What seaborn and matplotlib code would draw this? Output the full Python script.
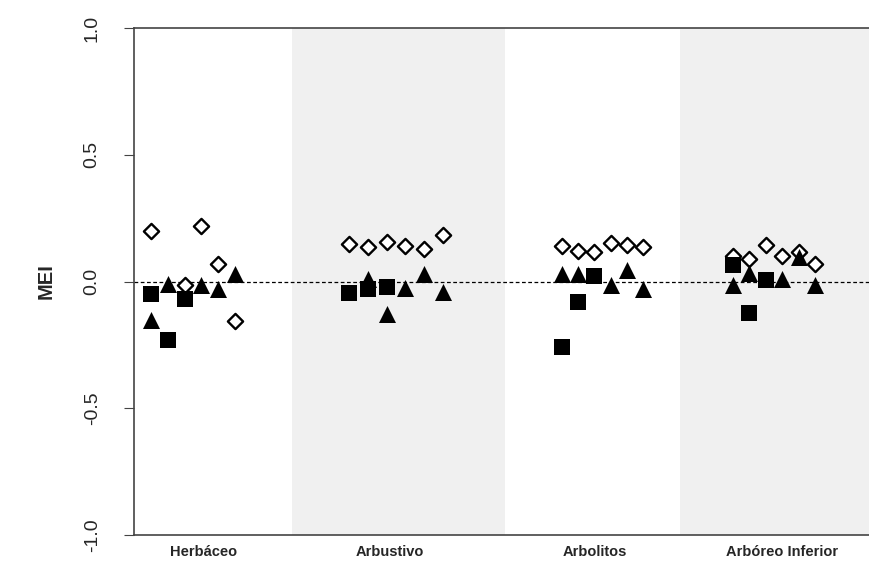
import pandas as pd
import matplotlib
matplotlib.use("Agg")
import matplotlib.pyplot as plt
import seaborn as sns

# Datos (MEI por estrato y sitio)
groups = ["Herbáceo", "Arbustivo", "Arbolitos", "Arbóreo Inferior"]

diamond_slots = [[0, 2, 3, 4, 5], [0, 1, 2, 3, 4, 5], [0, 1, 2, 3, 4, 5], [0, 1, 2, 3, 4, 5]]
diamond_vals = [[0.20, -0.015, 0.22, 0.07, -0.155],
                [0.146, 0.135, 0.155, 0.14, 0.13, 0.185],
                [0.14, 0.12, 0.115, 0.15, 0.145, 0.135],
                [0.10, 0.09, 0.145, 0.10, 0.115, 0.07]]

triangle_slots = [[0, 1, 3, 4, 5], [1, 2, 3, 4, 5], [0, 1, 3, 4, 5], [0, 1, 3, 4, 5]]
triangle_vals = [[-0.15, -0.01, -0.015, -0.03, 0.03],
                 [0.01, -0.13, -0.025, 0.03, -0.04],
                 [0.03, 0.03, -0.012, 0.045, -0.03],
                 [-0.015, 0.035, 0.01, 0.095, -0.015]]

square_slots = [[0, 1, 2], [0, 1, 2], [0, 1, 2], [0, 1, 2]]
square_vals = [[-0.05, -0.23, -0.07],
               [-0.045, -0.03, -0.02],
               [-0.26, -0.08, 0.02],
               [0.065, -0.125, 0.005]]

yticks = [1.0, 0.5, 0.0, -0.5, -1.0]

# Disposicion de las bandas (eje x continuo)
band_edges = [0, 158, 371, 546, 736]
slot_start = [17, 215, 428, 599]
slot_step = [16.8, 18.8, 16.2, 16.4]
label_pos = [70, 256, 461, 648]


def make_df(slots, vals):
    rows = []
    for g, (ss, vv) in enumerate(zip(slots, vals)):
        for s, v in zip(ss, vv):
            rows.append({"grupo": groups[g], "x": slot_start[g] + s * slot_step[g], "MEI": v})
    return pd.DataFrame(rows)


df_d = make_df(diamond_slots, diamond_vals)
df_t = make_df(triangle_slots, triangle_vals)
df_s = make_df(square_slots, square_vals)

sns.set_style("white")
plt.rcParams['font.family'] = ['Liberation Sans', 'DejaVu Sans']

fig = plt.figure(figsize=(8.7, 5.62), dpi=100)
ax = fig.add_axes([134 / 870, 27 / 562, 740 / 870, 507 / 562])

for i in range(4):
    if i % 2 == 1:
        ax.axvspan(band_edges[i], band_edges[i + 1], color="#f0f0f0", lw=0, zorder=0)

ax.axhline(0, color="black", lw=0.9, ls=(0, (3, 2)), zorder=1)

sns.scatterplot(data=df_d, x="x", y="MEI", marker="D", s=60, facecolor="white",
                edgecolor="black", linewidth=1.7, ax=ax, zorder=2)
sns.scatterplot(data=df_s, x="x", y="MEI", marker="s", s=135, color="black",
                edgecolor="black", linewidth=0, ax=ax, zorder=3)
sns.scatterplot(data=df_t, x="x", y="MEI", marker="^", s=150, color="black",
                edgecolor="black", linewidth=0, ax=ax, zorder=4)

ax.set_xlim(0, 740)
ax.set_ylim(-1.0, 1.0)
ax.set_yticks(yticks)
ax.set_yticklabels([f"{v:.1f}" for v in yticks], rotation=90, va="center", fontsize=14)
ax.set_xticks(label_pos)
ax.set_xticklabels(groups, fontsize=10.5, fontweight="bold")
ax.tick_params(axis="x", length=0, pad=7)
ax.tick_params(axis="y", length=7, width=0.8, color="#444444", pad=17, left=True)
ax.set_xlabel("")
ax.set_ylabel("MEI", fontsize=14.5, fontweight="bold", labelpad=20)

for side in ["left", "bottom", "top"]:
    ax.spines[side].set_color("#444444")
    ax.spines[side].set_linewidth(1.2)
ax.spines["right"].set_visible(False)

fig.savefig("out.png", dpi=100)
